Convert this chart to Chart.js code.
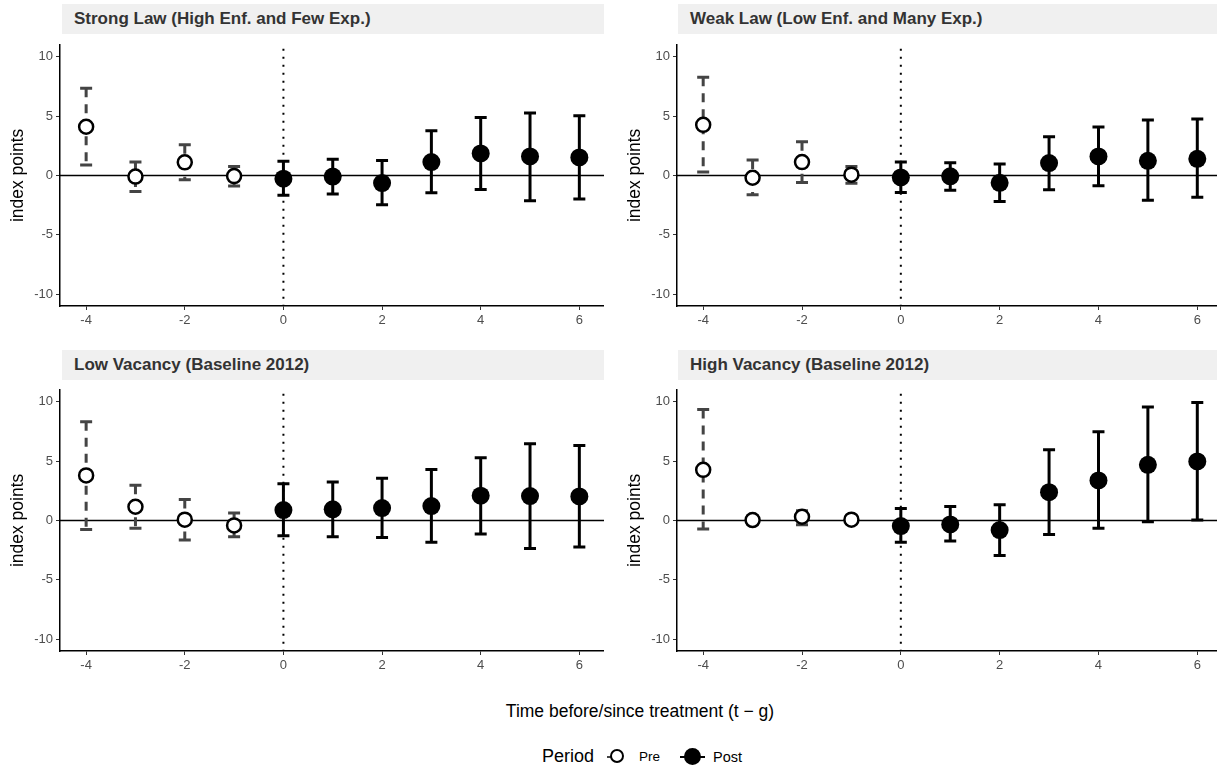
<!DOCTYPE html>
<html>
<head>
<meta charset="utf-8">
<script src="https://cdn.jsdelivr.net/npm/chart.js@4.4.1/dist/chart.umd.min.js"></script>
<style>
  body { margin: 0; width: 1217px; height: 768px; overflow: hidden; background: #fff;
         font-family: "Liberation Sans", Arial, sans-serif; position: relative; }
  .strip { position: absolute; height: 30px; background: #f0f0f0; font-weight: bold; font-size: 17px;
           color: #333; line-height: 30px; padding-left: 12px; box-sizing: border-box; }
  canvas { position: absolute; }
  #xtitle { position: absolute; left: 0; width: 1280px; top: 701px; text-align: center; font-size: 17.5px; color: #000; }
  .lg { position: absolute; color: #000; line-height: 20px; }
  .key { position: absolute; width: 20px; height: 20px; }
  .key .ln { position: absolute; left: 0; right: 0; top: 9px; height: 0; border-top: 2.5px solid #000; }
  .key .dot { position: absolute; border-radius: 50%; box-sizing: border-box; }
</style>
</head>
<body>

<div class="strip" style="left:62px; top:4px; width:542px;">Strong Law (High Enf. and Few Exp.)</div>
<div class="strip" style="left:678px; top:4px; width:539px;">Weak Law (Low Enf. and Many Exp.)</div>
<div class="strip" style="left:62px; top:350px; width:542px;">Low Vacancy (Baseline 2012)</div>
<div class="strip" style="left:678px; top:350px; width:539px;">High Vacancy (Baseline 2012)</div>

<canvas id="c1" width="604" height="296" style="left:0px; top:34px;"></canvas>
<canvas id="c2" width="605" height="296" style="left:617px; top:34px;"></canvas>
<canvas id="c3" width="604" height="296" style="left:0px; top:379px;"></canvas>
<canvas id="c4" width="605" height="296" style="left:617px; top:379px;"></canvas>

<div id="xtitle">Time before/since treatment (t − g)</div>
<div class="lg" style="left:542px; top:746px; font-size:18px;">Period</div>
<span class="key" style="left:607px; top:747px;"><span class="ln" style="border-top:2.5px dashed #444; right:6px;"></span><span class="dot" style="left:3px; top:2px; width:14px; height:14px; background:#fff; border:2.5px solid #000;"></span></span>
<div class="lg" style="left:639px; top:747px; font-size:13.5px;">Pre</div>
<span class="key" style="left:680px; top:747px; width:25px;"><span class="ln"></span><span class="dot" style="left:4px; top:1px; width:17px; height:17px; background:#000;"></span></span>
<div class="lg" style="left:713px; top:747px; font-size:14.5px;">Post</div>

<script>
const periods = [-4, -3, -2, -1, 0, 1, 2, 3, 4, 5, 6];
const xTicks = [-4, -2, 0, 2, 4, 6];
const yTicks = [-10, -5, 0, 5, 10];

// Strong Law
const strongEst  = [4.1, -0.1, 1.1, -0.06, -0.28, -0.1, -0.65, 1.12, 1.85, 1.6, 1.51];
const strongLow  = [0.87, -1.35, -0.36, -0.9, -1.68, -1.57, -2.47, -1.46, -1.18, -2.13, -1.99];
const strongHigh = [7.35, 1.12, 2.58, 0.76, 1.2, 1.37, 1.26, 3.76, 4.88, 5.25, 5.02];

// Weak Law
const weakEst  = [4.26, -0.2, 1.12, 0.06, -0.17, -0.08, -0.62, 1.04, 1.6, 1.23, 1.4];
const weakLow  = [0.28, -1.63, -0.59, -0.67, -1.43, -1.26, -2.19, -1.21, -0.87, -2.1, -1.85];
const weakHigh = [8.27, 1.29, 2.83, 0.76, 1.12, 1.07, 0.95, 3.25, 4.07, 4.66, 4.74];

// Low Vacancy
const lowVacEst  = [3.79, 1.15, 0.06, -0.42, 0.87, 0.93, 1.04, 1.21, 2.08, 2.05, 2.02];
const lowVacLow  = [-0.76, -0.67, -1.65, -1.37, -1.29, -1.37, -1.43, -1.85, -1.15, -2.36, -2.24];
const lowVacHigh = [8.3, 2.97, 1.77, 0.62, 3.09, 3.23, 3.56, 4.29, 5.27, 6.45, 6.31];

// High Vacancy
const highVacEst  = [4.26, 0.03, 0.31, 0.06, -0.48, -0.34, -0.81, 2.38, 3.37, 4.68, 4.97];
const highVacLow  = [-0.73, -0.3, -0.36, -0.25, -1.85, -1.74, -2.95, -1.18, -0.67, -0.11, 0.03];
const highVacHigh = [9.34, 0.4, 0.81, 0.35, 1.01, 1.18, 1.32, 5.95, 7.46, 9.55, 9.94];

// reference lines + error bars, drawn under the points
const ggLayers = {
  id: 'ggLayers',
  beforeDatasetsDraw(chart, args, opts) {
    const ctx = chart.ctx, xs = chart.scales.x, ys = chart.scales.y, a = chart.chartArea;
    ctx.save();
    // y = 0
    ctx.strokeStyle = '#000'; ctx.lineWidth = 1.5; ctx.setLineDash([]);
    ctx.beginPath(); ctx.moveTo(a.left, ys.getPixelForValue(0)); ctx.lineTo(a.right, ys.getPixelForValue(0)); ctx.stroke();
    // x = 0 dotted
    ctx.lineWidth = 2; ctx.setLineDash([2, 6]);
    ctx.beginPath(); ctx.moveTo(xs.getPixelForValue(0), a.top + 4); ctx.lineTo(xs.getPixelForValue(0), a.bottom); ctx.stroke();
    // error bars
    ctx.lineWidth = 3;
    periods.forEach((t, i) => {
      const px = xs.getPixelForValue(t);
      const yl = ys.getPixelForValue(opts.lo[i]), yh = ys.getPixelForValue(opts.hi[i]);
      const pre = t < 0;
      ctx.strokeStyle = pre ? '#444' : '#000';
      ctx.setLineDash(pre ? [9, 7] : []);
      ctx.beginPath(); ctx.moveTo(px, yh); ctx.lineTo(px, yl); ctx.stroke();
      ctx.setLineDash([]);
      ctx.beginPath();
      ctx.moveTo(px - 6, yh); ctx.lineTo(px + 6, yh);
      ctx.moveTo(px - 6, yl); ctx.lineTo(px + 6, yl);
      ctx.stroke();
    });
    ctx.restore();
  }
};

function makePanel(id, est, lo, hi) {
  const pre = [], post = [];
  periods.forEach((t, i) => (t < 0 ? pre : post).push({ x: t, y: est[i] }));
  new Chart(document.getElementById(id), {
    type: 'scatter',
    data: {
      datasets: [
        { label: 'Pre', data: pre, pointRadius: 7, pointBackgroundColor: '#fff', pointBorderColor: '#000', pointBorderWidth: 2.5 },
        { label: 'Post', data: post, pointRadius: 9, pointBackgroundColor: '#000', pointBorderColor: '#000', pointBorderWidth: 0 }
      ]
    },
    options: {
      responsive: false,
      animation: false,
      devicePixelRatio: 1,
      layout: { autoPadding: false, padding: { top: 4, right: 0, left: 0, bottom: 0 } },
      plugins: { legend: { display: false }, tooltip: { enabled: false }, ggLayers: { lo: lo, hi: hi } },
      scales: {
        x: {
          type: 'linear', min: -4.53, max: 6.5,
          afterBuildTicks: s => { s.ticks = xTicks.map(v => ({ value: v })); },
          afterFit: s => { s.height = 24; },
          ticks: { font: { size: 13, family: 'Liberation Sans' }, color: '#4d4d4d', padding: 3 },
          grid: { drawOnChartArea: false, drawTicks: true, tickLength: 4, color: '#333' },
          border: { display: true, color: '#000', width: 1.5 }
        },
        y: {
          type: 'linear', min: -11, max: 11,
          afterBuildTicks: s => { s.ticks = yTicks.map(v => ({ value: v })); },
          afterFit: s => { s.width = 60; },
          ticks: { font: { size: 13, family: 'Liberation Sans' }, color: '#4d4d4d', padding: 3 },
          grid: { drawOnChartArea: false, drawTicks: true, tickLength: 4, color: '#333' },
          border: { display: true, color: '#000', width: 1.5 },
          title: { display: true, text: 'index points', color: '#000', font: { size: 17.5, family: 'Liberation Sans' }, padding: { top: 8, bottom: 0 } }
        }
      }
    },
    plugins: [ggLayers]
  });
}

makePanel('c1', strongEst, strongLow, strongHigh);
makePanel('c2', weakEst, weakLow, weakHigh);
makePanel('c3', lowVacEst, lowVacLow, lowVacHigh);
makePanel('c4', highVacEst, highVacLow, highVacHigh);
</script>
</body>
</html>
